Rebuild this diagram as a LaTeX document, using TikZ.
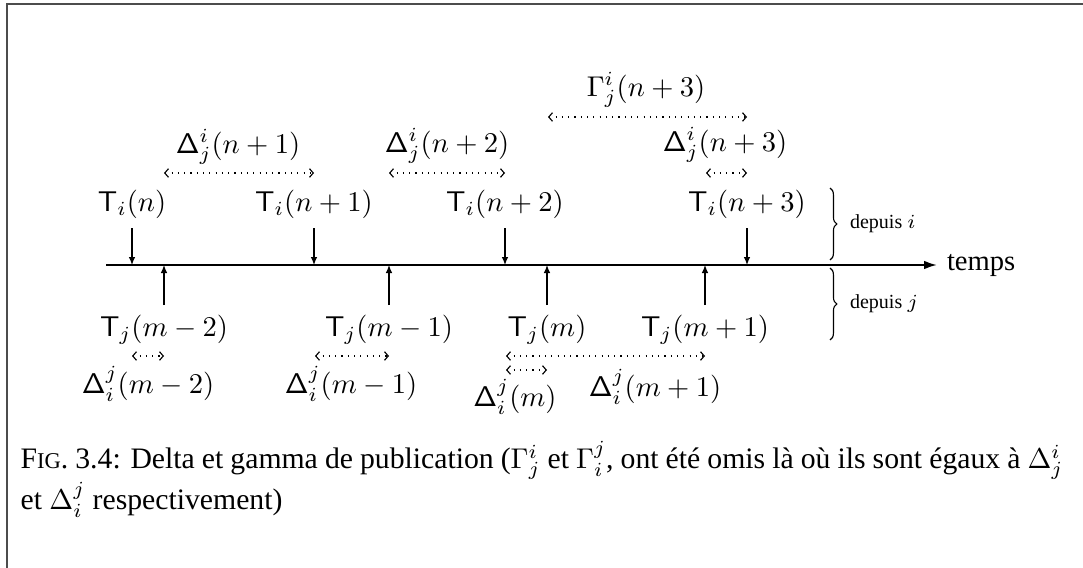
\documentclass[tikz,border=0pt]{standalone}
\usepackage[no-math]{fontspec}
\setmainfont{Liberation Serif}
\usetikzlibrary{arrows.meta, positioning, calc, decorations.pathreplacing}

\begin{document}
\begin{tikzpicture}[x=0.35pt, y=-0.35pt,
  evt/.style={inner sep=3.3pt},
  tick/.style={-{Latex[length=2.8pt,width=2.3pt]}, line width=0.4pt},
  ecart/.style={{Straight Barb[length=1.3pt,width=3pt]}-{Straight Barb[length=1.3pt,width=3pt]}, line width=0.4pt, dash pattern=on 0.4pt off 1.8pt},
  accol/.style={decorate, decoration={brace, amplitude=2.4pt}, line width=0.4pt}]
\useasboundingbox (0,0) rectangle (1083,568);

% cadre
\draw[black!70, line width=0.4pt] (7,568) -- (7,4) -- (1083,4);

% axe du temps
\coordinate (t0) at (106,265);
\coordinate (t1) at (937,265);
\draw[line width=0.7pt, -{Latex[length=4.5pt,width=3pt]}] (t0) -- (t1);
\node[anchor=west, inner sep=3.3pt] (temps) at (t1) {temps};

% instants depuis i
\node[evt] (Ti0) at (132,204) {$\mathsf{T}_i(n)$};
\node[evt] (Ti1) at (314,204) {$\mathsf{T}_i(n+1)$};
\node[evt] (Ti2) at (505,204) {$\mathsf{T}_i(n+2)$};
\node[evt] (Ti3) at (747,204) {$\mathsf{T}_i(n+3)$};
\foreach \n in {Ti0,Ti1,Ti2,Ti3}
  \draw[tick] (\n.south) -- (\n.south |- t0);

% instants depuis j
\node[evt] (Tj0) at (164,330) {$\mathsf{T}_j(m-2)$};
\node[evt] (Tj1) at (389,330) {$\mathsf{T}_j(m-1)$};
\node[evt] (Tj2) at (547,330) {$\mathsf{T}_j(m)$};
\node[evt] (Tj3) at (705,330) {$\mathsf{T}_j(m+1)$};
\foreach \n in {Tj0,Tj1,Tj2,Tj3}
  \draw[tick] (\n.north) -- (\n.north |- t0);

% deltas depuis i
\draw[ecart] (164,173) -- (314,173);
\draw[ecart] (389,173) -- (505,173);
\draw[ecart] (706,173) -- (747,173);
\draw[ecart] (548,117) -- (747,117);
\node (Dij1) at (238,147) {$\mathsf{\Delta}^i_j(n+1)$};
\node (Dij2) at (447,146) {$\mathsf{\Delta}^i_j(n+2)$};
\node (Dij3) at (725,145) {$\mathsf{\Delta}^i_j(n+3)$};
\node (Gij3) at (646,90) {$\Gamma^i_j(n+3)$};

% deltas depuis j
\draw[ecart] (132,356) -- (164,356);
\draw[ecart] (315,356) -- (389,356);
\draw[ecart] (506,356) -- (705,356);
\draw[ecart] (506,370) -- (547,370);
\node (Dji0) at (148,384) {$\mathsf{\Delta}^j_i(m-2)$};
\node (Dji1) at (351,384) {$\mathsf{\Delta}^j_i(m-1)$};
\node (Dji2) at (515,397) {$\mathsf{\Delta}^j_i(m)$};
\node (Dji3) at (655,387) {$\mathsf{\Delta}^j_i(m+1)$};

% accolades
\draw[accol] (830,188) -- (830,260) node[midway, right=3.5pt, font=\scriptsize] (depi) {depuis $i$};
\draw[accol] (830,268) -- (830,340) node[midway, right=3.5pt, font=\scriptsize] (depj) {depuis $j$};

% legende
\node[anchor=north west, inner sep=0pt, text width=365pt, align=justify, font=\fontsize{10.4}{12.2}\selectfont] (legende) at (20,441)
  {F{\fontsize{7.9}{9}\selectfont IG}. 3.4: Delta et gamma de publication ($\Gamma^i_j$ et $\Gamma^j_i$, ont été omis là où ils sont égaux à $\Delta^i_j$\linebreak et $\Delta^j_i$ respectivement)};
\end{tikzpicture}
\end{document}
